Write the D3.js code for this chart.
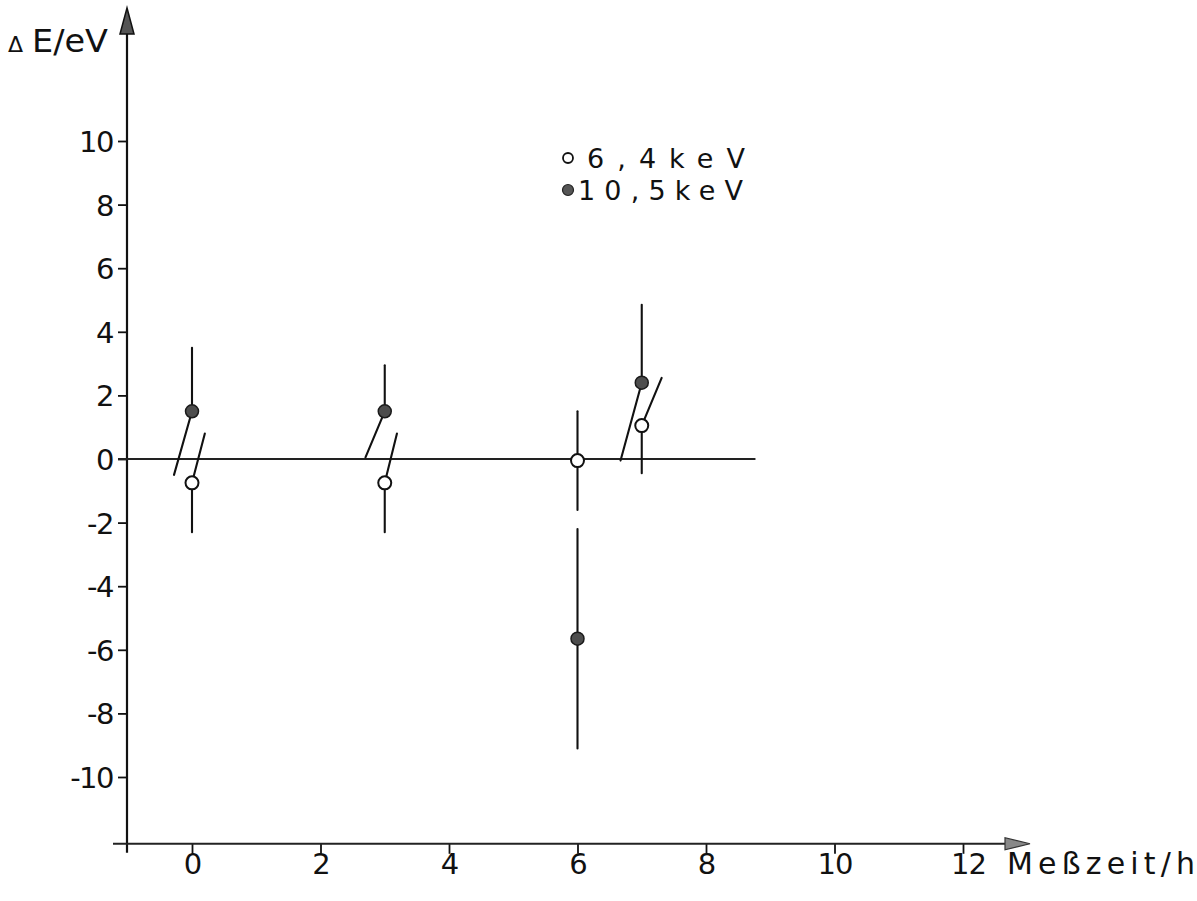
<!DOCTYPE html>
<html>
<head>
<meta charset="utf-8">
<script src="https://cdn.jsdelivr.net/npm/d3@7"></script>
<style>
  html, body { margin: 0; padding: 0; background: #fff; }
  svg { display: block; }
  text { font-family: "DejaVu Sans", sans-serif; fill: #111; }
</style>
</head>
<body>
<svg id="chart" width="1197" height="901"></svg>
<script>
// ---- data ----
const times = [0, 3, 6, 7];                       // Meßzeit / h
const e64 = [-0.75, -0.75, -0.05, 1.05];          // ΔE (6,4 keV, open circles)
const e64Err = [1.55, 1.55, 1.55, 1.5];
const e105 = [1.5, 1.5, -5.65, 2.4];              // ΔE (10,5 keV, filled circles)
const e105Err = [2.0, 1.45, 3.45, 2.45];
// horizontal displacement (h) of the slanted half of each error bar
const e64UpperShift = [0.2, 0.19, 0, 0.31];
const e105LowerShift = [-0.28, -0.3, 0, -0.33];
const xTicks = [0, 2, 4, 6, 8, 10, 12];
const yTicks = [-10, -8, -6, -4, -2, 0, 2, 4, 6, 8, 10];
const legendLabels = ["6,4keV", "10,5keV"];
const xTitle = "Meßzeit/h";
const yTitle = "E/eV";
const zeroLineEnd = 8.77;

// ---- scales ----
const svg = d3.select("#chart");
const x = d3.scaleLinear().domain([0, 12]).range([192, 963]);
const y = d3.scaleLinear().domain([-10, 10]).range([777, 141]);
const axisX = 127;
const axisY = y(-12.1);

// ---- axes ----
const yAxis = d3.axisLeft(y).tickValues(yTicks).tickSize(9).tickPadding(5)
  .tickFormat(d => String(d));
const gy = svg.append("g").attr("transform", `translate(${axisX},0)`).call(yAxis);
gy.select(".domain").remove();
gy.selectAll(".tick line").attr("stroke", "#111").attr("stroke-width", 1.8);
gy.selectAll(".tick text").attr("font-size", 29).attr("fill", "#111")
  .attr("letter-spacing", -1.5)
  .attr("dy", "0.36em").attr("font-family", "DejaVu Sans");

const xAxis = d3.axisBottom(x).tickValues(xTicks).tickSize(10)
  .tickFormat(d => String(d));
const gx = svg.append("g").attr("transform", `translate(0,${axisY})`).call(xAxis);
gx.select(".domain").remove();
gx.selectAll(".tick line").attr("stroke", "#111").attr("stroke-width", 1.8);
gx.selectAll(".tick text").attr("font-size", 29).attr("fill", "#111")
  .attr("letter-spacing", -1)
  .attr("y", 30).attr("dy", 0).attr("font-family", "DejaVu Sans");
gx.selectAll(".tick").filter(d => d === 12).select("text").attr("x", 5);

// axis lines with arrows
svg.append("line").attr("x1", axisX).attr("x2", axisX)
  .attr("y1", axisY + 9).attr("y2", 30)
  .attr("stroke", "#111").attr("stroke-width", 2.2);
svg.append("path")
  .attr("d", `M${axisX},8 L${axisX - 7},34 L${axisX + 7},34 Z`)
  .attr("fill", "#555").attr("stroke", "#111").attr("stroke-width", 1.5);
svg.append("line").attr("x1", 113).attr("x2", 1006)
  .attr("y1", axisY).attr("y2", axisY)
  .attr("stroke", "#222").attr("stroke-width", 2);
svg.append("path")
  .attr("d", `M1030,${axisY} L1005,${axisY - 6} L1005,${axisY + 6} Z`)
  .attr("fill", "#888").attr("stroke", "#333").attr("stroke-width", 1.2);

// axis titles
const yt = svg.append("text").attr("x", 8).attr("y", 52);
yt.append("tspan").attr("font-size", 22).text("Δ");
yt.append("tspan").attr("x", 32).attr("font-size", 32)
  .attr("textLength", 76).attr("lengthAdjust", "spacingAndGlyphs").text(yTitle);
svg.append("text").attr("x", 1007).attr("y", axisY + 30).attr("font-size", 30)
  .attr("textLength", 188).attr("lengthAdjust", "spacing").text(xTitle);

// zero line
svg.append("line").attr("x1", 118).attr("x2", x(zeroLineEnd))
  .attr("y1", y(0)).attr("y2", y(0))
  .attr("stroke", "#222").attr("stroke-width", 1.8);

// ---- error bars ----
const g = svg.append("g").attr("stroke", "#111").attr("stroke-width", 2.1)
  .attr("stroke-linecap", "round");
times.forEach((t, i) => {
  // 10,5 keV : upper half vertical, lower half possibly slanted
  g.append("line").attr("x1", x(t)).attr("x2", x(t))
    .attr("y1", y(e105[i])).attr("y2", y(e105[i] + e105Err[i]));
  g.append("line").attr("x1", x(t)).attr("x2", x(t + e105LowerShift[i]))
    .attr("y1", y(e105[i])).attr("y2", y(e105[i] - e105Err[i]));
  // 6,4 keV : lower half vertical, upper half possibly slanted
  g.append("line").attr("x1", x(t)).attr("x2", x(t))
    .attr("y1", y(e64[i])).attr("y2", y(e64[i] - e64Err[i]));
  g.append("line").attr("x1", x(t)).attr("x2", x(t + e64UpperShift[i]))
    .attr("y1", y(e64[i])).attr("y2", y(e64[i] + e64Err[i]));
});

// ---- markers ----
svg.append("g").selectAll("circle.f").data(times).join("circle")
  .attr("cx", d => x(d)).attr("cy", (d, i) => y(e105[i])).attr("r", 6.5)
  .attr("fill", "#4d4d4d").attr("stroke", "#1a1a1a").attr("stroke-width", 1.5);
svg.append("g").selectAll("circle.o").data(times).join("circle")
  .attr("cx", d => x(d)).attr("cy", (d, i) => y(e64[i])).attr("r", 6.5)
  .attr("fill", "#fff").attr("stroke", "#111").attr("stroke-width", 2);

// ---- legend ----
svg.append("circle").attr("cx", 568).attr("cy", 158).attr("r", 5)
  .attr("fill", "#fff").attr("stroke", "#111").attr("stroke-width", 1.8);
svg.append("text").attr("x", 587).attr("y", 168).attr("font-size", 27)
  .attr("textLength", 158).attr("lengthAdjust", "spacing").text(legendLabels[0]);
svg.append("circle").attr("cx", 568).attr("cy", 190).attr("r", 5.5)
  .attr("fill", "#555").attr("stroke", "#222").attr("stroke-width", 1.2);
svg.append("text").attr("x", 578).attr("y", 200).attr("font-size", 27)
  .attr("textLength", 165).attr("lengthAdjust", "spacing").text(legendLabels[1]);
</script>
</body>
</html>
